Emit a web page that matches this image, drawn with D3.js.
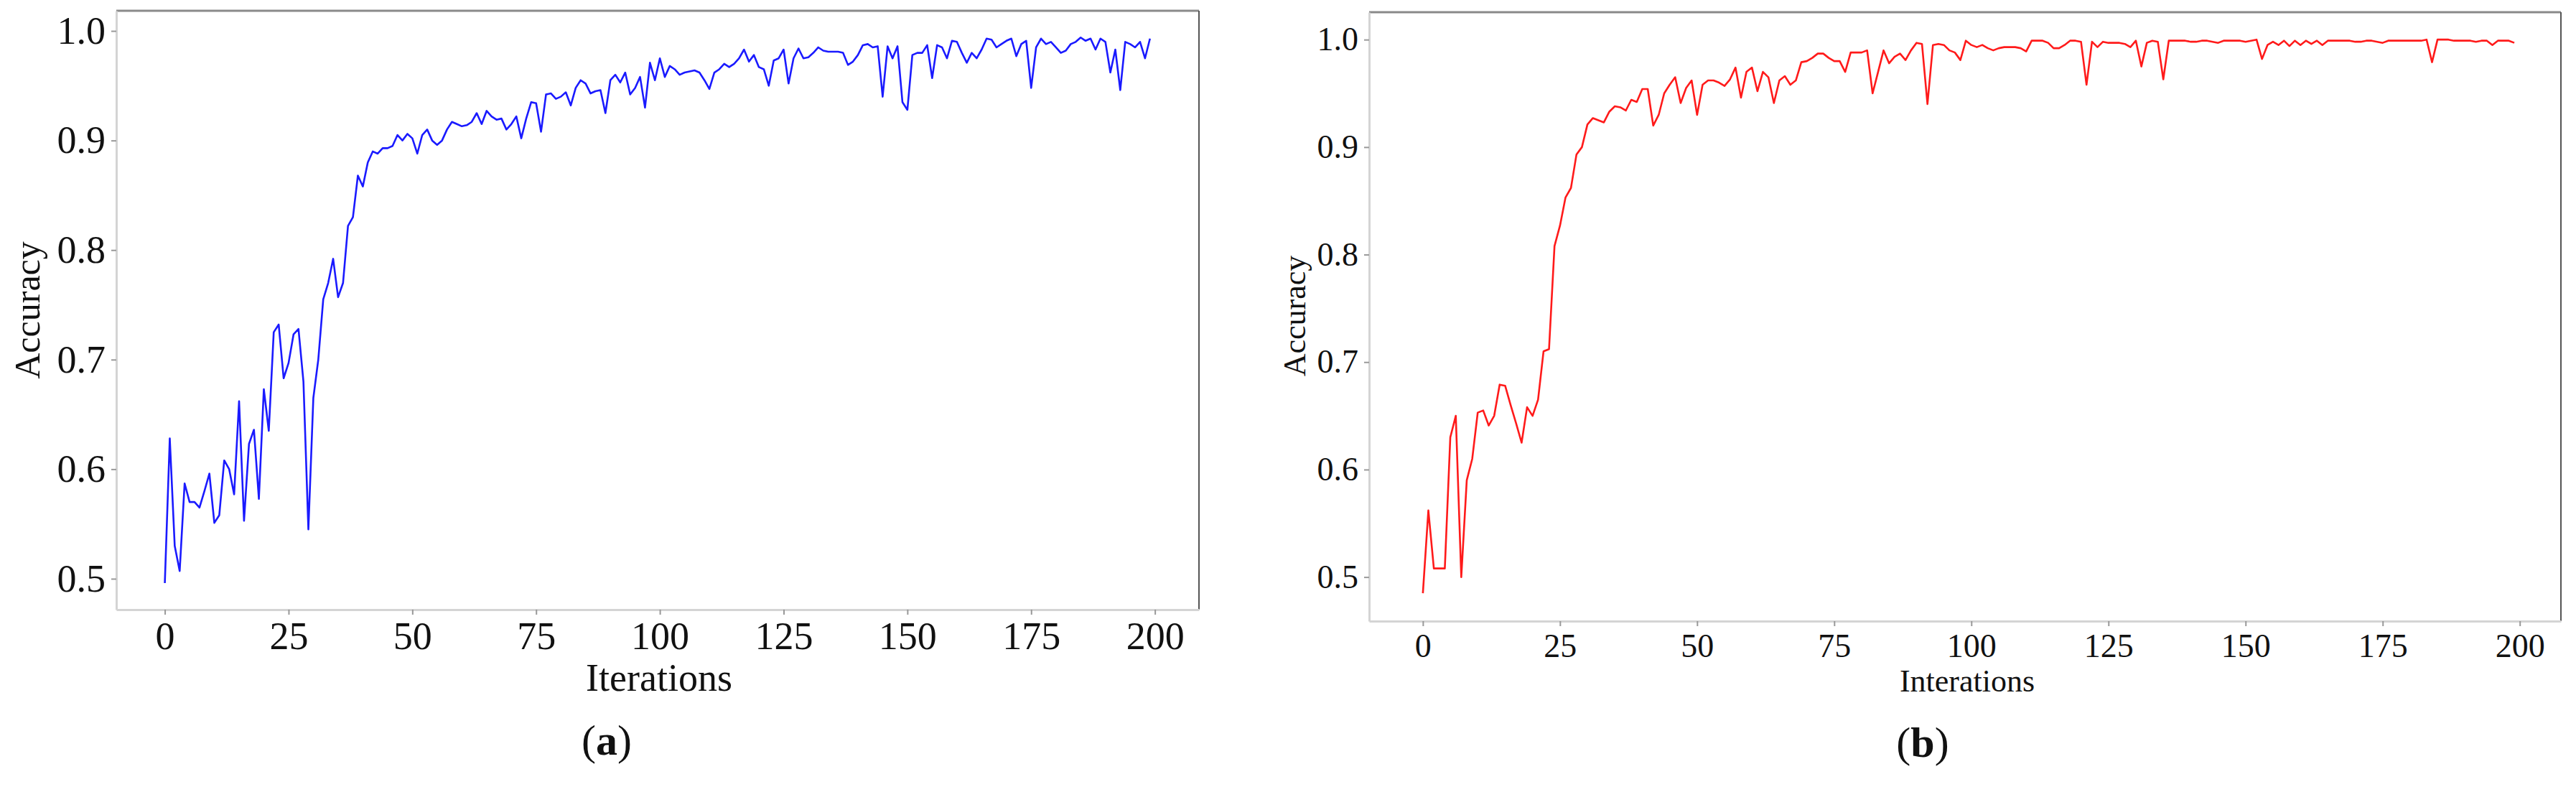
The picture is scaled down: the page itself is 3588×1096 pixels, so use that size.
<!DOCTYPE html>
<html>
<head>
<meta charset="utf-8">
<script src="https://cdn.jsdelivr.net/npm/d3@7"></script>
<style>
  body { margin: 0; background: #fff; }
  text { font-family: "Liberation Serif", "DejaVu Serif", serif; fill: #111; }
</style>
</head>
<body>
<div id="chart"></div>
<script>
const iterations = d3.range(0, 200)

const accuracyA = [
  0.496, 0.628, 0.530, 0.507, 0.587, 0.570, 0.570, 0.565, 0.580, 0.596,
  0.551, 0.558, 0.608, 0.600, 0.577, 0.662, 0.553, 0.623, 0.636, 0.573,
  0.673, 0.635, 0.725, 0.732, 0.683, 0.697, 0.723, 0.728, 0.680, 0.545,
  0.665, 0.700, 0.755, 0.770, 0.792, 0.757, 0.770, 0.822, 0.830, 0.868,
  0.858, 0.880, 0.890, 0.888, 0.893, 0.893, 0.895, 0.905, 0.900, 0.906,
  0.902, 0.888, 0.905, 0.910, 0.900, 0.896, 0.900, 0.910, 0.917, 0.915,
  0.913, 0.914, 0.917, 0.925, 0.915, 0.927, 0.922, 0.919, 0.920, 0.910,
  0.915, 0.922, 0.902, 0.920, 0.935, 0.934, 0.908, 0.942, 0.943, 0.938,
  0.940, 0.944, 0.932, 0.948, 0.955, 0.952, 0.943, 0.945, 0.946, 0.925,
  0.955, 0.960, 0.953, 0.962, 0.942, 0.948, 0.958, 0.930, 0.971, 0.955,
  0.975, 0.958, 0.968, 0.965, 0.960, 0.962, 0.963, 0.964, 0.962, 0.955,
  0.947, 0.962, 0.965, 0.970, 0.967, 0.970, 0.975, 0.983, 0.972, 0.978,
  0.967, 0.965, 0.950, 0.973, 0.975, 0.983, 0.952, 0.975, 0.984, 0.975,
  0.976, 0.980, 0.985, 0.982, 0.981, 0.981, 0.981, 0.980, 0.969, 0.972,
  0.978, 0.987, 0.988, 0.985, 0.986, 0.940, 0.986, 0.975, 0.986, 0.935,
  0.928, 0.978, 0.980, 0.980, 0.987, 0.957, 0.987, 0.985, 0.975, 0.991,
  0.990, 0.980, 0.971, 0.980, 0.975, 0.983, 0.993, 0.992, 0.985, 0.988,
  0.991, 0.993, 0.977, 0.988, 0.991, 0.948, 0.985, 0.993, 0.988, 0.990,
  0.985, 0.980, 0.982, 0.988, 0.990, 0.994, 0.991, 0.993, 0.983, 0.993,
  0.990, 0.962, 0.983, 0.946, 0.990, 0.988, 0.985, 0.990, 0.975, 0.993
]

const accuracyB = [
  0.485, 0.562, 0.508, 0.508, 0.508, 0.630, 0.650, 0.500, 0.590, 0.610,
  0.653, 0.655, 0.641, 0.650, 0.679, 0.678, 0.660, 0.643, 0.625, 0.658,
  0.650, 0.665, 0.710, 0.712, 0.808, 0.827, 0.853, 0.862, 0.893, 0.900,
  0.921, 0.927, 0.925, 0.923, 0.933, 0.938, 0.937, 0.934, 0.944, 0.942,
  0.954, 0.954, 0.920, 0.930, 0.950, 0.958, 0.965, 0.941, 0.955, 0.962,
  0.930, 0.958, 0.962, 0.962, 0.960, 0.957, 0.963, 0.974, 0.946, 0.970,
  0.974, 0.952, 0.970, 0.965, 0.941, 0.962, 0.966, 0.958, 0.962, 0.979,
  0.980, 0.983, 0.987, 0.987, 0.983, 0.980, 0.980, 0.970, 0.988, 0.988,
  0.988, 0.990, 0.950, 0.970, 0.990, 0.978, 0.984, 0.987, 0.981, 0.990,
  0.997, 0.996, 0.940, 0.995, 0.996, 0.995, 0.990, 0.988, 0.981, 0.999,
  0.995, 0.993, 0.995, 0.992, 0.990, 0.992, 0.993, 0.993, 0.993, 0.992,
  0.989, 0.999, 0.999, 0.999, 0.997, 0.992, 0.992, 0.995, 0.999, 0.999,
  0.998, 0.958, 0.998, 0.993, 0.998, 0.997, 0.997, 0.997, 0.996, 0.993,
  0.999, 0.975, 0.997, 0.999, 0.998, 0.963, 0.999, 0.999, 0.999, 0.999,
  0.998, 0.998, 0.999, 0.999, 0.998, 0.997, 0.999, 0.999, 0.999, 0.999,
  0.998, 0.999, 1.000, 0.982, 0.995, 0.998, 0.995, 0.999, 0.994, 0.999,
  0.995, 0.999, 0.996, 0.999, 0.995, 0.999, 0.999, 0.999, 0.999, 0.999,
  0.998, 0.998, 0.999, 0.999, 0.998, 0.997, 0.999, 0.999, 0.999, 0.999,
  0.999, 0.999, 0.999, 1.000, 0.979, 1.000, 1.000, 1.000, 0.999, 0.999,
  0.999, 0.999, 0.998, 0.999, 0.999, 0.995, 0.999, 0.999, 0.999, 0.997
]

const yTicks = [0.5, 0.6, 0.7, 0.8, 0.9, 1.0]
const xTicks = [0, 25, 50, 75, 100, 125, 150, 175, 200]

const svg = d3.select('#chart').append('svg')
  .attr('width', 3588)
  .attr('height', 1096)

const render = ({values, color, box, xDomain, yDomain, tickSize, labelSize, xTitle, xTitleSize, xTitlePos, yTitlePos, tag, tagPos}) => {
  const x = d3.scaleLinear().domain(xDomain).range([box.left, box.right])
  const y = d3.scaleLinear().domain(yDomain).range([box.bottom, box.top])

  // frame: light left/bottom, darker top/right
  svg.append('line').attr('x1', box.left).attr('x2', box.right).attr('y1', box.top).attr('y2', box.top)
    .attr('stroke', '#8a8a8a').attr('stroke-width', 3)
  svg.append('line').attr('x1', box.right).attr('x2', box.right).attr('y1', box.top).attr('y2', box.bottom)
    .attr('stroke', '#555').attr('stroke-width', 2)

  const xAxis = svg.append('g')
    .attr('transform', `translate(0, ${box.bottom})`)
    .call(d3.axisBottom(x).tickValues(xTicks).tickSize(7).tickPadding(10).tickSizeOuter(0))
  const yAxis = svg.append('g')
    .attr('transform', `translate(${box.left}, 0)`)
    .call(d3.axisLeft(y).tickValues(yTicks).tickFormat(d3.format('.1f')).tickSize(7).tickPadding(8).tickSizeOuter(0))

  ;[xAxis, yAxis].forEach(g => {
    g.select('.domain').attr('stroke', '#d4d4d4').attr('stroke-width', 3)
    g.selectAll('.tick line').attr('stroke', '#999').attr('stroke-width', 2)
    g.selectAll('.tick text').attr('font-size', tickSize).attr('fill', '#111')
      .style('font-family', '"Liberation Serif", serif')
  })

  svg.append('path')
    .datum(values)
    .attr('fill', 'none')
    .attr('stroke', color)
    .attr('stroke-width', 2.6)
    .attr('stroke-linejoin', 'round')
    .attr('d', d3.line().x((d, i) => x(iterations[i])).y(d => y(d)))

  svg.append('text')
    .attr('transform', `translate(${yTitlePos[0]}, ${yTitlePos[1]}) rotate(-90)`)
    .attr('text-anchor', 'middle')
    .attr('dominant-baseline', 'central')
    .attr('font-size', labelSize)
    .text('Accuracy')

  svg.append('text')
    .attr('x', xTitlePos[0]).attr('y', xTitlePos[1])
    .attr('text-anchor', 'middle')
    .attr('dominant-baseline', 'central')
    .attr('font-size', xTitleSize)
    .text(xTitle)

  const cap = svg.append('text')
    .attr('x', tagPos[0]).attr('y', tagPos[1])
    .attr('text-anchor', 'middle')
    .attr('dominant-baseline', 'central')
    .attr('font-size', 60)
  cap.append('tspan').text('(')
  cap.append('tspan').attr('font-weight', 'bold').text(tag)
  cap.append('tspan').text(')')
}

render({
  values: accuracyA,
  color: '#1a1aff',
  box: {left: 162, right: 1670, top: 15, bottom: 849},
  xDomain: [-9.8, 208.9],
  yDomain: [0.4718, 1.0184],
  tickSize: 54,
  labelSize: 50,
  xTitle: 'Iterations',
  xTitleSize: 54,
  xTitlePos: [918, 944],
  yTitlePos: [38, 432],
  tag: 'a',
  tagPos: [845, 1031]
})

render({
  values: accuracyB,
  color: '#ff1a1a',
  box: {left: 1907, right: 3567, top: 17, bottom: 865},
  xDomain: [-9.8, 207.5],
  yDomain: [0.459, 1.0255],
  tickSize: 46,
  labelSize: 44,
  xTitle: 'Interations',
  xTitleSize: 44,
  xTitlePos: [2740, 948],
  yTitlePos: [1803, 440],
  tag: 'b',
  tagPos: [2678, 1034]
})
</script>
</body>
</html>
